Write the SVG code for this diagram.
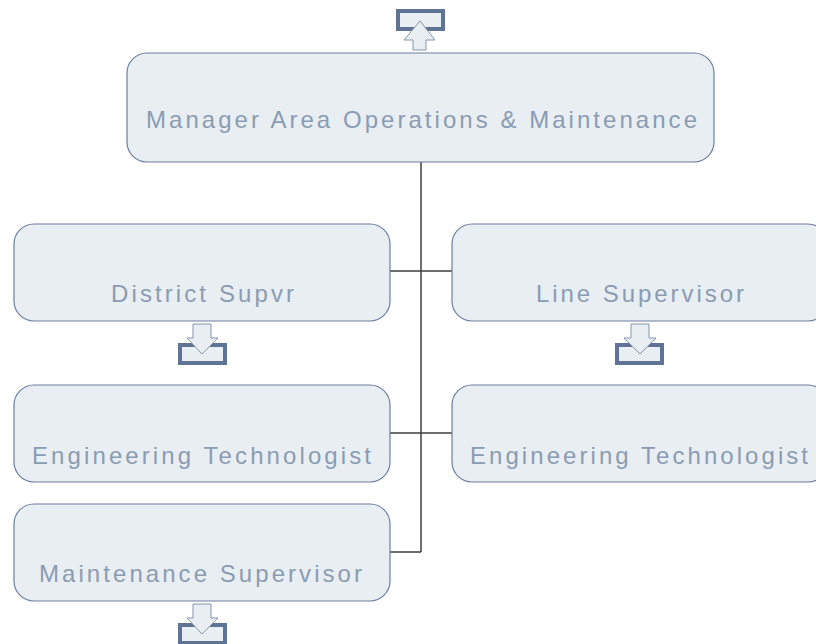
<svg xmlns="http://www.w3.org/2000/svg" width="816" height="644" viewBox="0 0 816 644">
<style>
.box{fill:#e9eef2;stroke:#6b7fa0;stroke-width:1.2}
.lbl{font-family:"Liberation Sans",Arial,sans-serif;font-size:24px;fill:#8a9cb3;text-anchor:start}
.conn{stroke:#3e3e3e;stroke-width:1.5;fill:none}
.tray{fill:#e9eef2;stroke:#5f7394;stroke-width:4}
.arr{fill:#e9eef2;stroke:#8796ab;stroke-width:1}
</style>
<rect width="816" height="644" fill="#ffffff"/>
<g id="connectors">
<line class="conn" x1="421" y1="162" x2="421" y2="552"/>
<line class="conn" x1="390" y1="271" x2="452" y2="271"/>
<line class="conn" x1="390" y1="433" x2="452" y2="433"/>
<line class="conn" x1="390" y1="552" x2="421" y2="552"/>
</g>
<g id="n-manager">
<rect class="box" x="127" y="53" width="587" height="109" rx="20"/>
<text class="lbl" x="146" y="128" textLength="551" lengthAdjust="spacing">Manager Area Operations &amp; Maintenance</text>
<rect class="tray" x="398" y="11" width="45" height="18"/>
<polygon class="arr" points="420,21 435,40 426,40 426,50 413,50 413,40 404,40"/>
</g>
<g id="n-district">
<rect class="box" x="14" y="224" width="376" height="97" rx="20"/>
<text class="lbl" x="111" y="302" textLength="183" lengthAdjust="spacing">District Supvr</text>
<rect class="tray" x="180" y="345" width="45" height="18"/>
<polygon class="arr" points="193,324 211,324 211,338 218,338 202,354 187,338 193,338"/>
</g>
<g id="n-line">
<rect class="box" x="452" y="224" width="376" height="97" rx="20"/>
<text class="lbl" x="536" y="302" textLength="208" lengthAdjust="spacing">Line Supervisor</text>
<rect class="tray" x="617" y="345" width="45" height="18"/>
<polygon class="arr" points="631,324 649,324 649,338 656,338 640,354 624,338 631,338"/>
</g>
<g id="n-eng-left">
<rect class="box" x="14" y="385" width="376" height="97" rx="20"/>
<text class="lbl" x="32" y="464" textLength="339" lengthAdjust="spacing">Engineering Technologist</text>
</g>
<g id="n-eng-right">
<rect class="box" x="452" y="385" width="376" height="97" rx="20"/>
<text class="lbl" x="470" y="464" textLength="338" lengthAdjust="spacing">Engineering Technologist</text>
</g>
<g id="n-maint">
<rect class="box" x="14" y="504" width="376" height="97" rx="20"/>
<text class="lbl" x="39" y="582" textLength="323" lengthAdjust="spacing">Maintenance Supervisor</text>
<rect class="tray" x="180" y="625" width="45" height="18"/>
<polygon class="arr" points="193,604 211,604 211,618 218,618 202,634 187,618 193,618"/>
</g>
</svg>
